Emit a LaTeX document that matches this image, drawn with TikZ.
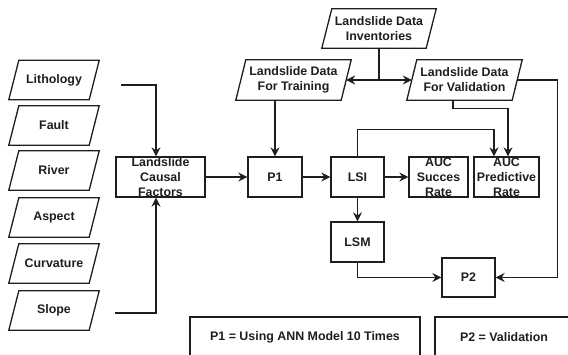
\documentclass[tikz,border=0pt]{standalone}
\usepackage{fontspec}
\setmainfont{Liberation Sans}
\usetikzlibrary{arrows.meta,calc}
\definecolor{ln}{HTML}{1E1E1E}
\newcommand\parabox[1]{\draw[line width=1.3pt,ln] ([xshift=5pt]#1.north west) -- ([xshift=5pt]#1.north east) -- ([xshift=-5pt]#1.south east) -- ([xshift=-5pt]#1.south west) -- cycle;}
\begin{document}
\begin{tikzpicture}[x=1pt,y=-1pt,
  every node/.style={font=\fontsize{12.4}{15}\selectfont\bfseries, text=ln, align=center},
  para/.style={minimum height=39pt, inner sep=0pt},
  boxs/.style={draw=ln, line width=1.3pt, minimum height=40pt, inner sep=0pt},
  conn/.style={draw=ln, line width=1.3pt, -{Stealth[length=9pt,width=9pt,inset=3pt]}},
  plainline/.style={draw=ln, line width=1.3pt}]
\useasboundingbox (0,0) rectangle (568,354);
% left inputs
\node[para, minimum width=80pt] (lith) at (54,80) {Lithology};
\node[para, minimum width=80pt] (fault) at (54,125.5) {Fault};
\node[para, minimum width=80pt] (river) at (54,170.5) {River};
\node[para, minimum width=80pt] (aspect) at (54,217.5) {Aspect};
\node[para, minimum width=80pt] (curv) at (54,263.5) {Curvature};
\node[para, minimum width=80pt] (slope) at (54,310.5) {Slope};
\foreach \n in {lith,fault,river,aspect,curv,slope}{\parabox{\n}}
% data
\node[para, minimum width=104pt] (inv) at (379,28.5) {Landslide Data\\Inventories};
\node[para, minimum width=105pt, minimum height=40pt] (train) at (293.5,80) {Landslide Data\\For Training};
\node[para, minimum width=105pt, minimum height=40pt] (valid) at (464.5,80) {Landslide Data\\For Validation};
\foreach \n in {inv,train,valid}{\parabox{\n}}
% process boxes
\node[boxs, minimum width=89pt] (causal) at (160.5,177) {Landslide\\Causal\\Factors};
\node[boxs, minimum width=54pt] (p1) at (275,177) {P1};
\node[boxs, minimum width=53pt] (lsi) at (357.5,177) {LSI};
\node[boxs, minimum width=59pt] (aucs) at (438.5,177) {AUC\\Succes\\Rate};
\node[boxs, minimum width=65pt] (aucp) at (506.5,177) {AUC\\Predictive\\Rate};
\node[boxs, minimum width=53pt] (lsm) at (357.5,242) {LSM};
\node[boxs, minimum width=53pt, minimum height=39pt] (p2) at (468.5,277.5) {P2};
% connectors
\coordinate (lithout) at (121,85);
\coordinate (slopeout) at (115,313);
\draw[conn] (lithout) -| ([xshift=-4.5pt]causal.north);
\draw[conn] (slopeout) -| ([xshift=-4.5pt]causal.south);
\draw[conn] (causal) -- (p1);
\draw[conn] (p1) -- (lsi);
\draw[conn] (lsi) -- (aucs);
\draw[conn] (lsi) -- (lsm);
\coordinate (invj) at (inv.south |- train.east);
\draw[plainline] (inv.south) -- (invj);
\draw[conn] (invj) -- (train.east);
\draw[conn] (invj) -- (valid.west);
\draw[conn] (p1.north |- train.south) -- (p1.north);
\draw[conn] ([xshift=-11.5pt]valid.south) |- ++(0,8) -| ([xshift=1.5pt]aucp.north);
\draw[conn] (lsi.north) |- ++(0,-27) -| ([xshift=-12.5pt]aucp.north);
\draw[conn] (valid.east) -| ++(40,0) |- (p2.east);
\draw[conn] (lsm.south) |- (p2.west);
% legends
\begin{scope}
\clip (0,0) rectangle (568,354);
\draw[plainline] (190,360) |- (420,317) -- (420,360);
\draw[plainline] (435,360) |- (573,317) -- (573,360);
\end{scope}
\node (leg1) at (305,337) {P1 = Using ANN Model 10 Times};
\node (leg2) at (504,337) {P2 = Validation};
\end{tikzpicture}
\end{document}
